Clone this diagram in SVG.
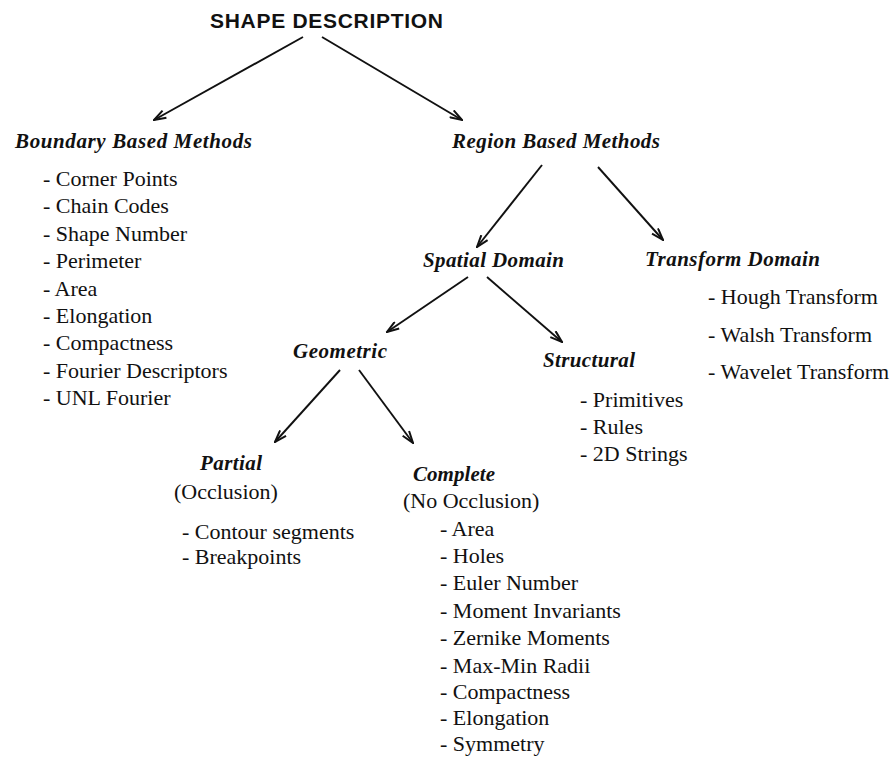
<svg xmlns="http://www.w3.org/2000/svg" width="895" height="757" viewBox="0 0 895 757">
<defs>
<marker id="ah" viewBox="0 0 14 10" refX="13" refY="5" markerWidth="14" markerHeight="10" markerUnits="userSpaceOnUse" orient="auto">
<path d="M1,1 L13,5 L1,9" fill="none" stroke="#111" stroke-width="2" stroke-linejoin="miter"/>
</marker>
<style>
.t{font-family:"Liberation Sans",Arial,sans-serif;font-weight:bold;font-size:21px;fill:#111}
.h{font-family:"Liberation Serif","Times New Roman",serif;font-weight:bold;font-style:italic;font-size:21px;fill:#111}
.i{font-family:"Liberation Serif","Times New Roman",serif;font-size:22px;fill:#111}
.c{stroke:#111;stroke-width:1.9;fill:none;marker-end:url(#ah)}
</style>
</defs>
<rect width="895" height="757" fill="#fff"/>
<g id="connectors">
<line class="c" x1="303" y1="37" x2="154" y2="120"/>
<line class="c" x1="322" y1="37" x2="462" y2="120"/>
<line class="c" x1="542" y1="165" x2="477" y2="247"/>
<line class="c" x1="598" y1="167" x2="663" y2="240"/>
<line class="c" x1="468" y1="277" x2="387" y2="332"/>
<line class="c" x1="487" y1="277" x2="562" y2="342"/>
<line class="c" x1="340" y1="370" x2="275" y2="442"/>
<line class="c" x1="359" y1="370" x2="413" y2="443"/>
</g>
<g id="shape-description"><text class="t" x="210" y="28" textLength="233">SHAPE DESCRIPTION</text></g>
<g id="boundary-based">
<text class="h" x="15" y="148" textLength="237">Boundary Based Methods</text>
<text class="i" x="43" y="186">- Corner Points</text>
<text class="i" x="43" y="213">- Chain Codes</text>
<text class="i" x="43" y="241">- Shape Number</text>
<text class="i" x="43" y="268">- Perimeter</text>
<text class="i" x="43" y="296">- Area</text>
<text class="i" x="43" y="323">- Elongation</text>
<text class="i" x="43" y="350">- Compactness</text>
<text class="i" x="43" y="378">- Fourier Descriptors</text>
<text class="i" x="43" y="405">- UNL Fourier</text>
</g>
<g id="region-based"><text class="h" x="452" y="148" textLength="208">Region Based Methods</text></g>
<g id="spatial-domain"><text class="h" x="423" y="267" textLength="141">Spatial Domain</text></g>
<g id="transform-domain">
<text class="h" x="645" y="266" textLength="175">Transform Domain</text>
<text class="i" x="708" y="304">- Hough Transform</text>
<text class="i" x="708" y="342">- Walsh Transform</text>
<text class="i" x="708" y="379">- Wavelet Transform</text>
</g>
<g id="geometric"><text class="h" x="293" y="358" textLength="94">Geometric</text></g>
<g id="structural">
<text class="h" x="543" y="367" textLength="92">Structural</text>
<text class="i" x="580" y="407">- Primitives</text>
<text class="i" x="580" y="434">- Rules</text>
<text class="i" x="580" y="461">- 2D Strings</text>
</g>
<g id="partial">
<text class="h" x="200" y="470" textLength="62">Partial</text>
<text class="i" x="174" y="499">(Occlusion)</text>
<text class="i" x="182" y="539">- Contour segments</text>
<text class="i" x="182" y="564">- Breakpoints</text>
</g>
<g id="complete">
<text class="h" x="413" y="481" textLength="82">Complete</text>
<text class="i" x="403" y="508">(No Occlusion)</text>
<text class="i" x="440" y="536">- Area</text>
<text class="i" x="440" y="563">- Holes</text>
<text class="i" x="440" y="590">- Euler Number</text>
<text class="i" x="440" y="618">- Moment Invariants</text>
<text class="i" x="440" y="645">- Zernike Moments</text>
<text class="i" x="440" y="673">- Max-Min Radii</text>
<text class="i" x="440" y="699">- Compactness</text>
<text class="i" x="440" y="725">- Elongation</text>
<text class="i" x="440" y="751">- Symmetry</text>
</g>
</svg>
